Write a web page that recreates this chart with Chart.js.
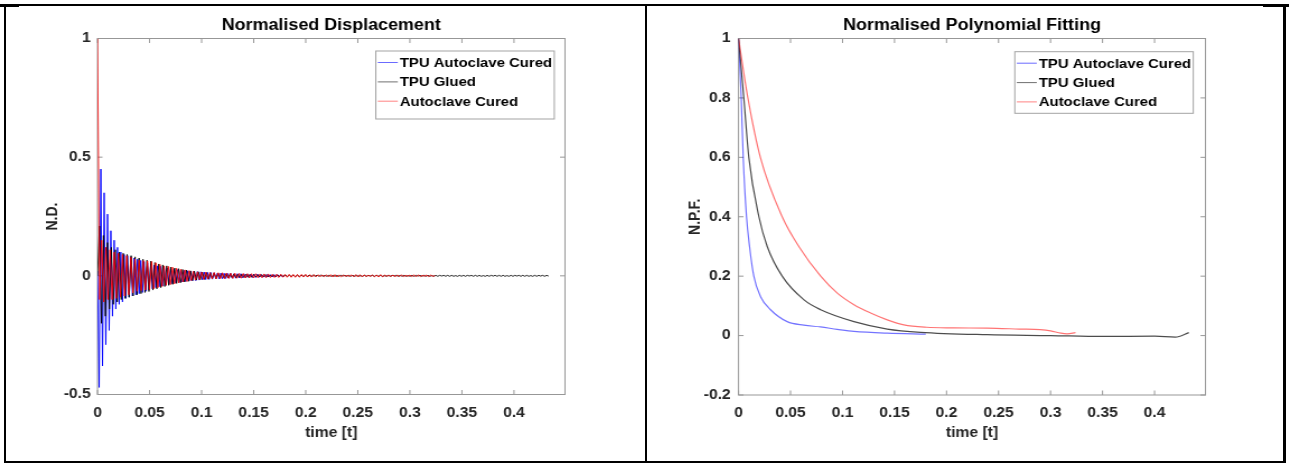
<!DOCTYPE html>
<html>
<head>
<meta charset="utf-8">
<script src="https://cdn.jsdelivr.net/npm/chart.js@4.4.1/dist/chart.umd.min.js"></script>
<style>
  html, body { margin: 0; padding: 0; background: #fff; width: 1289px; height: 463px; overflow: hidden; }
  body { position: relative; }
  .panel { position: absolute; top: 0; transform-origin: 0 0; transform: scaleX(1.12); }
  .panel canvas { display: block; }
  .rule { position: absolute; background: #000; }
</style>
</head>
<body>
<div class="panel" style="left:0"><canvas id="dispChart" width="577" height="463"></canvas></div>
<div class="panel" style="left:646px"><canvas id="fitChart" width="574" height="463"></canvas></div>

<div class="rule" style="left:0;top:4px;width:1289px;height:2px"></div>
<div class="rule" style="left:0;top:4px;width:19px;height:3px"></div>
<div class="rule" style="left:1263px;top:4px;width:26px;height:3px"></div>
<div class="rule" style="left:4px;top:4px;width:2px;height:459px"></div>
<div class="rule" style="left:645px;top:4px;width:2px;height:459px"></div>
<div class="rule" style="left:1283px;top:4px;width:2.5px;height:459px"></div>
<div class="rule" style="left:4px;top:461px;width:1281px;height:2px"></div>

<script>
// ---- series names ----
const seriesNames = ['TPU Autoclave Cured', 'TPU Glued', 'Autoclave Cured'];

// ---- normalised displacement records (uniformly sampled, step in seconds) ----
const tpuAutoclaveStep = 0.0016;
const tpuAutoclaveDisp = [
  .02,-.47,.45,-.38,.35,-.29,.26,-.23,.19,-.17,
  .15,-.14,.12,-.12,.10,-.11,.09,-.095,.085,-.09,
  .08,-.085,.075,-.08,.07,-.075,.065,-.07,.06,-.065,
  .055,-.06,.05,-.055,.045,-.05,.042,-.046,.04,-.043,
  .036,-.04,.033,-.036,.03,-.033,.028,-.03,.026,-.028,
  .024,-.026,.023,-.024,.021,-.022,.02,-.021,.019,-.02,
  .018,-.018,.017,-.017,.016,-.016,.015,-.015,.014,-.014,
  .013,-.013,.012,-.013,.012,-.012,.011,-.011,.011,-.01,
  .01,-.01,.009,-.01,.009,-.009,.009,-.008,.008,-.008,
  .008,-.008,.007,-.007,.007,-.007,.007,-.006,.006,-.006,
  .006,-.006,.006,-.005,.005,-.005,.005,-.005,.005,-.004,
  .004,-.004,.003
];

const tpuGluedStep = 0.0019;
const tpuGluedDisp = [
  0,.21,-.2,.17,-.17,.14,-.14,.12,-.12,.11,
  -.11,.1,-.1,.095,-.095,.09,-.09,.085,-.085,.08,
  -.08,.075,-.075,.07,-.07,.066,-.066,.062,-.06,.056,
  -.055,.05,-.05,.046,-.045,.042,-.04,.037,-.036,.033,
  -.032,.03,-.029,.027,-.026,.024,-.023,.021,-.02,.019,
  -.018,.017,-.016,.016,-.015,.014,-.014,.013,-.012,.012,
  -.011,.011,-.01,.01,-.01,.009,-.009,.009,-.008,.008,
  -.008,.007,-.007,.007,-.007,.006,-.006,.006,-.006,.006,
  -.005,.005,-.005,.005,-.005,.005,-.005,.004,-.004,.004,
  -.004,.004,-.004,.004,-.004,.004,-.003,.003,-.003,.003,
  -.003,.003,-.003,.003,-.003,.003,-.003,.003,-.003,.003,
  -.002,.003,-.002,.003,-.002,.002,-.002,.002,-.002,.002,
  -.002,.002,-.002,.002,-.001,.002,-.002,.002,-.002,.002,
  -.002,.002,-.002,.001,-.002,.002,-.002,.002,-.001,.002,
  -.002,.002,-.002,.002,-.002,.001,-.002,.002,-.002,.002,
  -.001,.002,-.002,.002,-.002,.002,-.002,.001,-.002,.002,
  -.002,.002,-.001,.002,-.002,.002,-.002,.002,-.002,.001,
  -.002,.002,-.002,.002,-.001,.002,-.002,.002,-.002,.002,
  -.002,.001,-.002,.002,-.002,.002,-.002,.002,-.001,.002,
  -.002,.002,-.002,.002,-.002,.001,-.002,.002,-.002,.002,
  -.001,.002,-.002,.002,-.002,.002,-.002,.001,-.002,.002,
  -.002,.002,-.001,.002,-.002,.002,-.002,.002,-.002,.001,
  -.002,.002,-.002,.002,-.001,.002,-.002,.002,-.001
];

const autoclaveStep = 0.002;
const autoclaveDisp = [
  1,-.1,.15,-.11,.12,-.1,.11,-.1,.1,-.095,
  .095,-.09,.09,-.085,.085,-.08,.078,-.072,.07,-.065,
  .066,-.062,.064,-.06,.063,-.058,.06,-.055,.055,-.05,
  .048,-.045,.042,-.04,.04,-.037,.037,-.034,.032,-.03,
  .028,-.026,.025,-.024,.022,-.02,.019,-.018,.017,-.016,
  .016,-.015,.015,-.014,.014,-.013,.014,-.013,.013,-.012,
  .013,-.012,.012,-.011,.011,-.011,.011,-.01,.01,-.01,
  .01,-.009,.009,-.009,.009,-.009,.009,-.008,.008,-.008,
  .008,-.008,.008,-.007,.007,-.007,.007,-.007,.007,-.006,
  .006,-.006,.006,-.006,.006,-.006,.006,-.006,.006,-.005,
  .006,-.005,.005,-.005,.005,-.004,.004,-.003,.003,-.003,
  .004,-.004,.005,-.005,.005,-.005,.004,-.004,.003,-.002,
  .002,-.003,.004,-.004,.005,-.005,.005,-.004,.004,-.003,
  .002,-.002,.003,-.004,.004,-.005,.005,-.004,.003,-.002,
  .002,-.002,.003,-.004,.004,-.004,.004,-.003,.002,-.002,
  .003,-.003,.004,-.004,.004,-.003,.002,-.002,.003,-.003,
  .003,-.002,.001
];

// ---- normalised polynomial fits (time [s], value) ----
const tpuAutoclaveFitTime = [0, .0026, .0045, .0077, .0106, .0147, .0212, .0308, .0468, .0628, .0788, .0949, .111, .143, .18];
const tpuAutoclaveFit     = [1, .8, .6, .4, .3, .2, .131, .087, .047, .035, .029, .021, .014, .008, .005];

const tpuGluedFitTime = [0, .0051, .0099, .0196, .0276, .042, .063, .079, .111, .143, .175, .239, .3, .35, .4, .42, .433];
const tpuGluedFit     = [1, .8, .6, .4, .3, .2, .12, .087, .047, .022, .011, .003, 0, -.003, -.002, -.005, .01];

const autoclaveFitTime = [0, .009, .021, .042, .058, .079, .095, .111, .127, .143, .159, .181, .207, .239, .27, .29, .30, .31, .316, .324];
const autoclaveFit     = [1, .8, .6, .4, .3, .2, .143, .104, .076, .053, .036, .028, .026, .025, .022, .02, .016, .008, .006, .01];

// ---- axis ticks ----
const timeTickStep = 0.05;
const timeMax = 0.449;
const dispTickStep = 0.5;
const fitTickStep = 0.2;

// ---- drawing helpers ----
const STRETCH = 1.12;            // panels are widened horizontally by this factor
const FONT = '"Liberation Sans", Arial, Helvetica, sans-serif';
const INK = '#262626';
const AXIS = '#979797';

const sampled = (vals, step) => vals.map((v, i) => ({ x: i * step, y: v }));
const paired = (ts, vals) => ts.map((t, i) => ({ x: t, y: vals[i] }));
const fmt = v => String(Math.round(v * 1000) / 1000);

// axes box with inward ticks on all four sides
const frame = {
  id: 'frame',
  beforeDatasetsDraw(chart, args, o) {
    const { ctx, chartArea: a, scales: { x, y } } = chart;
    ctx.save();
    ctx.strokeStyle = AXIS;
    ctx.lineWidth = 1;
    ctx.strokeRect(a.left, a.top, a.right - a.left, a.bottom - a.top);
    ctx.beginPath();
    x.ticks.forEach(t => {
      const px = x.getPixelForValue(t.value);
      ctx.moveTo(px, a.bottom); ctx.lineTo(px, a.bottom - 4.5);
      ctx.moveTo(px, a.top); ctx.lineTo(px, a.top + 4.5);
    });
    const th = 5 / STRETCH;
    y.ticks.forEach(t => {
      const py = y.getPixelForValue(t.value);
      ctx.moveTo(a.left, py); ctx.lineTo(a.left + th, py);
      ctx.moveTo(a.right, py); ctx.lineTo(a.right - th, py);
    });
    ctx.stroke();
    ctx.restore();
  }
};

// plot heading centred over the axes
const heading = {
  id: 'heading',
  afterDraw(chart, args, o) {
    const { ctx, chartArea: a } = chart;
    ctx.save();
    ctx.font = 'bold 16px ' + FONT;
    ctx.fillStyle = '#000';
    ctx.textAlign = 'center';
    ctx.textBaseline = 'alphabetic';
    ctx.fillText(o.text, (a.left + a.right) / 2, 30);
    ctx.restore();
  }
};

// boxed legend in the upper-right corner of the axes
const keyBox = {
  id: 'keyBox',
  afterDraw(chart, args, o) {
    const { ctx, chartArea: a } = chart;
    const w = 178.5 / STRETCH;
    const left = a.right - o.right / STRETCH - w;
    const top = a.top + o.top;
    ctx.save();
    ctx.fillStyle = '#fff';
    ctx.fillRect(left, top, w, o.height);
    ctx.strokeStyle = '#a3a3a3';
    ctx.lineWidth = 1;
    ctx.strokeRect(left, top, w, o.height);
    ctx.font = 'bold 13.3px ' + FONT;
    ctx.textAlign = 'left';
    ctx.textBaseline = 'middle';
    const rows = [12.3, 31.7, 51];
    chart.data.datasets.forEach((ds, i) => {
      const yy = top + rows[i];
      ctx.strokeStyle = ds.keyColor;
      ctx.lineWidth = 1;
      ctx.beginPath();
      ctx.moveTo(left + 2 / STRETCH, yy - 0.8);
      ctx.lineTo(left + 22 / STRETCH, yy - 0.8);
      ctx.stroke();
      ctx.fillStyle = '#000';
      ctx.fillText(ds.label, left + 24 / STRETCH, yy);
    });
    ctx.restore();
  }
};

function axisOptions(o) {
  const tickFont = { family: FONT, size: 14, weight: 'bold' };
  return {
    x: {
      type: 'linear', min: 0, max: timeMax,
      afterFit: s => { s.height = o.xHeight; },
      grid: { display: false, drawTicks: false },
      border: { display: false },
      ticks: { stepSize: timeTickStep, includeBounds: false, autoSkip: false, maxRotation: 0,
               padding: 10, color: INK, font: tickFont, callback: fmt },
      title: { display: true, text: 'time [t]', color: INK, font: tickFont,
               padding: { top: 0, bottom: 21.6 } }
    },
    y: {
      type: 'linear', min: o.yMin, max: 1,
      afterFit: s => { s.width = o.yWidth; },
      grid: { display: false, drawTicks: false },
      border: { display: false },
      ticks: { stepSize: o.yStep, padding: o.yPad, color: INK, font: tickFont, callback: fmt },
      title: { display: true, text: o.yTitle, color: INK, font: tickFont,
               padding: { top: o.yTitlePad, bottom: 0 } }
    }
  };
}

// ---- Normalised Displacement ----
new Chart(document.getElementById('dispChart'), {
  type: 'line',
  data: {
    datasets: [
      { label: seriesNames[0], data: sampled(tpuAutoclaveDisp, tpuAutoclaveStep),
        borderColor: 'rgba(0,0,255,0.9)', borderWidth: 1, pointRadius: 0, tension: 0, order: 3, keyColor: '#6b6bff' },
      { label: seriesNames[1], data: sampled(tpuGluedDisp, tpuGluedStep),
        borderColor: 'rgba(0,0,0,0.85)', borderWidth: 1, pointRadius: 0, tension: 0, order: 2, keyColor: '#707070' },
      { label: seriesNames[2], data: sampled(autoclaveDisp, autoclaveStep),
        borderColor: 'rgba(255,0,0,0.85)', borderWidth: 1, pointRadius: 0, tension: 0, order: 1, keyColor: '#ff8383' }
    ]
  },
  options: {
    responsive: false, animation: false, devicePixelRatio: 1,
    layout: { padding: { left: 0, top: 38.5, right: 72.54, bottom: 0 } },
    scales: axisOptions({ xHeight: 68.5, yMin: -0.5, yStep: dispTickStep, yWidth: 87.05, yPad: 6,
                          yTitle: 'N.D.', yTitlePad: 38.5 }),
    plugins: {
      legend: { display: false }, tooltip: { enabled: false },
      heading: { text: 'Normalised Displacement' },
      keyBox: { right: 10.7, top: 12.5, height: 68 }
    }
  },
  plugins: [frame, heading, keyBox]
});

// ---- Normalised Polynomial Fitting ----
new Chart(document.getElementById('fitChart'), {
  type: 'line',
  data: {
    datasets: [
      { label: seriesNames[0], data: paired(tpuAutoclaveFitTime, tpuAutoclaveFit),
        borderColor: 'rgba(0,0,255,0.55)', borderWidth: 1.2, pointRadius: 0, cubicInterpolationMode: 'monotone', order: 3, keyColor: '#6b6bff' },
      { label: seriesNames[1], data: paired(tpuGluedFitTime, tpuGluedFit),
        borderColor: 'rgba(0,0,0,0.7)', borderWidth: 1.2, pointRadius: 0, cubicInterpolationMode: 'monotone', order: 2, keyColor: '#707070' },
      { label: seriesNames[2], data: paired(autoclaveFitTime, autoclaveFit),
        borderColor: 'rgba(255,0,0,0.55)', borderWidth: 1.2, pointRadius: 0, cubicInterpolationMode: 'monotone', order: 1, keyColor: '#ff8383' }
    ]
  },
  options: {
    responsive: false, animation: false, devicePixelRatio: 1,
    layout: { padding: { left: 0, top: 38.5, right: 74.45, bottom: 0 } },
    scales: axisOptions({ xHeight: 68, yMin: -0.2, yStep: fitTickStep, yWidth: 82.59, yPad: 7,
                          yTitle: 'N.P.F.', yTitlePad: 35.8 }),
    plugins: {
      legend: { display: false }, tooltip: { enabled: false },
      heading: { text: 'Normalised Polynomial Fitting' },
      keyBox: { right: 12.2, top: 13.2, height: 61.6 }
    }
  },
  plugins: [frame, heading, keyBox]
});
</script>
</body>
</html>
